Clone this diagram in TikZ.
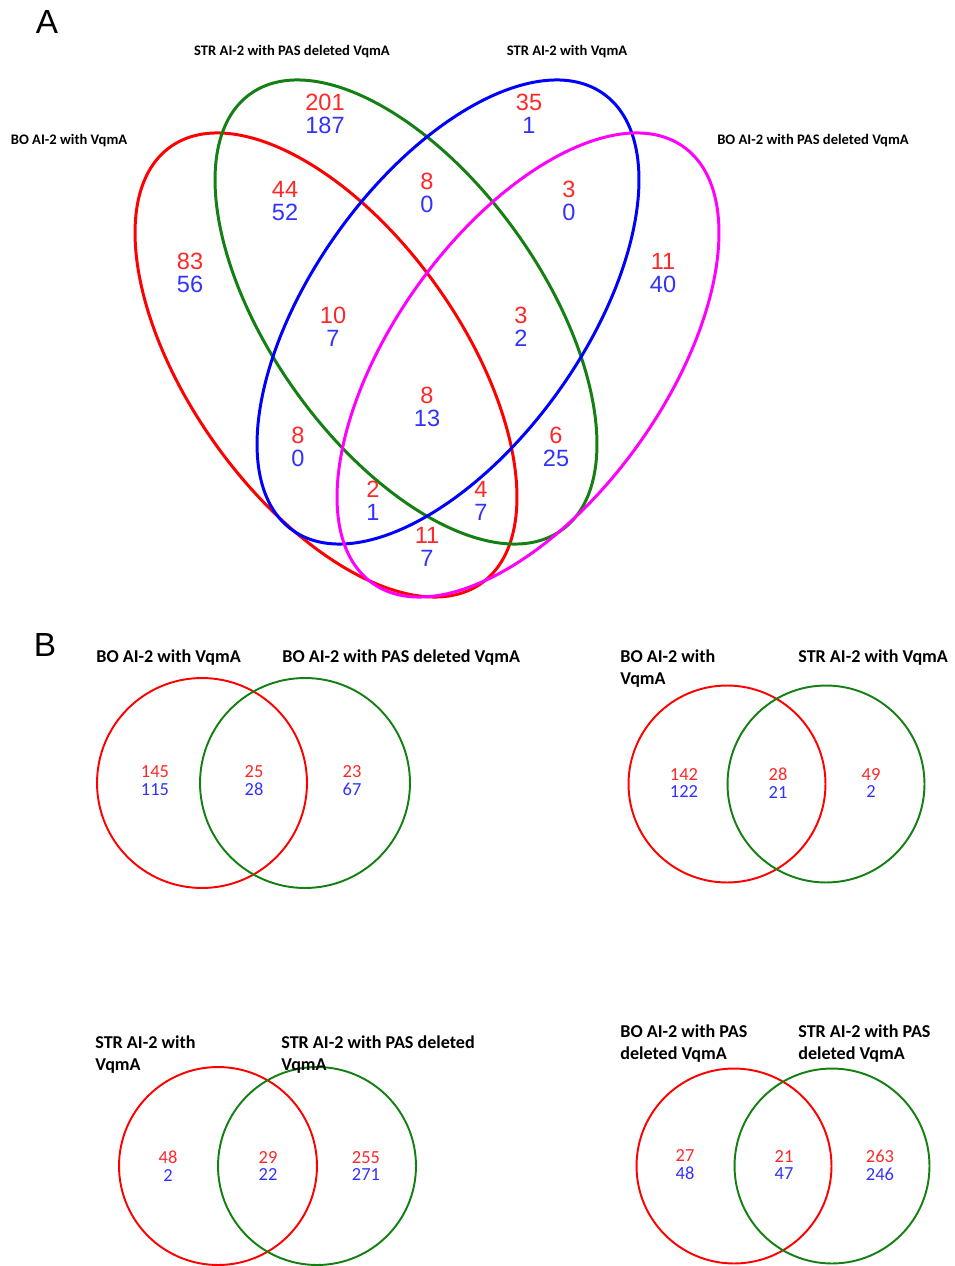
\documentclass[tikz,border=0pt]{standalone}
\usepackage{fontspec}
\setmainfont{Liberation Sans}
\newfontfamily\calibri{Carlito}
\usepackage{xcolor}
\usepackage{tikz}
\usetikzlibrary{positioning}
\definecolor{setred}{RGB}{255,0,0}
\definecolor{setgreen}{RGB}{20,128,20}
\definecolor{setblue}{RGB}{0,0,255}
\definecolor{setmag}{RGB}{255,0,255}
\definecolor{nred}{RGB}{255,40,40}
\definecolor{nblue}{RGB}{50,50,255}

\begin{document}
\begin{tikzpicture}[
  x=0.02cm, y=-0.02cm,
  setA/.style={line width=1.7pt},
  setB/.style={line width=1.1pt},
  numA/.style={text=nred, font=\fontsize{13.4}{13}\selectfont, align=center, inner sep=0pt},
  numB/.style={text=nred, font=\calibri\fontsize{10.5}{10.2}\selectfont, align=center, inner sep=0pt},
  labA/.style={font=\calibri\bfseries\fontsize{8.3}{10}\selectfont, inner sep=0pt},
  labB/.style={font=\calibri\bfseries\fontsize{10.3}{12.5}\selectfont, align=left,
               anchor=base west, inner sep=0pt},
  panel/.style={font=\fontsize{19}{19}\selectfont, inner sep=0pt}
]
\useasboundingbox (0,0) rectangle (955,1266);

\node[panel] (pA) at (47,22) {A};
\node[panel] (pB) at (45,645) {B};

\draw[setA, setred, rotate around={-54.5:(326,365)}] (326,365) ellipse [x radius=5.36cm, y radius=2.72cm];
\draw[setA, setgreen, rotate around={-54.5:(406,312)}] (406,312) ellipse [x radius=5.36cm, y radius=2.72cm];
\draw[setA, setblue, rotate around={54.5:(448,312)}] (448,312) ellipse [x radius=5.36cm, y radius=2.72cm];
\draw[setA, setmag, rotate around={54.5:(528,365)}] (528,365) ellipse [x radius=5.36cm, y radius=2.72cm];

\node[labA] (boA) at (69,141) {BO AI-2 with VqmA};
\node[labA] (strpasA) at (292,52) {STR AI-2 with PAS deleted VqmA};
\node[labA] (strA) at (567,52) {STR AI-2 with VqmA};
\node[labA] (bopasA) at (813,141) {BO AI-2 with PAS deleted VqmA};

\node[numA] (a1) at (325,114) {201\\\color{nblue}187};
\node[numA] (a2) at (529,114) {35\\\color{nblue}1};
\node[numA] (a3) at (190,273) {83\\\color{nblue}56};
\node[numA] (a4) at (285,201) {44\\\color{nblue}52};
\node[numA] (a5) at (427,193) {8\\\color{nblue}0};
\node[numA] (a6) at (569,201) {3\\\color{nblue}0};
\node[numA] (a7) at (663,273) {11\\\color{nblue}40};
\node[numA] (a8) at (333,327) {10\\\color{nblue}7};
\node[numA] (a9) at (521,327) {3\\\color{nblue}2};
\node[numA] (a10) at (427,407) {8\\\color{nblue}13};
\node[numA] (a11) at (298,447) {8\\\color{nblue}0};
\node[numA] (a12) at (556,447) {6\\\color{nblue}25};
\node[numA] (a13) at (373,501) {2\\\color{nblue}1};
\node[numA] (a14) at (481,501) {4\\\color{nblue}7};
\node[numA] (a15) at (427,547) {11\\\color{nblue}7};

\draw[setB, setred] (202,783) circle [radius=2.1cm];
\draw[setB, setgreen] (305,783) circle [radius=2.1cm];
\node[labB] (l1a) at (96,662) {BO AI-2 with VqmA};
\node[labB] (l1b) at (282,662) {BO AI-2 with PAS deleted VqmA};
\node[numB] (b1) at (155,781) {145\\\color{nblue}115};
\node[numB] (b2) at (254,781) {25\\\color{nblue}28};
\node[numB] (b3) at (352,781) {23\\\color{nblue}67};

\draw[setB, setred] (727,784) circle [radius=1.97cm];
\draw[setB, setgreen] (826,784) circle [radius=1.97cm];
\node[labB] (l2a) at (620,684) {BO AI-2 with\\VqmA};
\node[labB] (l2b) at (798,662) {STR AI-2 with VqmA};
\node[numB] (b4) at (684,783) {142\\\color{nblue}122};
\node[numB] (b5) at (778,783) {28\\\color{nblue}21};
\node[numB] (b6) at (871,783) {49\\\color{nblue}2};

\draw[setB, setred] (218,1166) circle [radius=1.98cm];
\draw[setB, setgreen] (317,1166) circle [radius=1.98cm];
\node[labB] (l3a) at (95,1070) {STR AI-2 with\\VqmA};
\node[labB] (l3b) at (281,1070) {STR AI-2 with PAS deleted\\VqmA};
\node[numB] (b7) at (168,1166) {48\\\color{nblue}2};
\node[numB] (b8) at (268,1166) {29\\\color{nblue}22};
\node[numB] (b9) at (366,1166) {255\\\color{nblue}271};

\draw[setB, setred] (734,1166) circle [radius=1.95cm];
\draw[setB, setgreen] (832,1166) circle [radius=1.95cm];
\node[labB] (l4a) at (620,1059) {BO AI-2 with PAS\\deleted VqmA};
\node[labB] (l4b) at (798,1059) {STR AI-2 with PAS\\deleted VqmA};
\node[numB] (b10) at (685,1165) {27\\\color{nblue}48};
\node[numB] (b11) at (784,1165) {21\\\color{nblue}47};
\node[numB] (b12) at (880,1165) {263\\\color{nblue}246};
\end{tikzpicture}
\end{document}
